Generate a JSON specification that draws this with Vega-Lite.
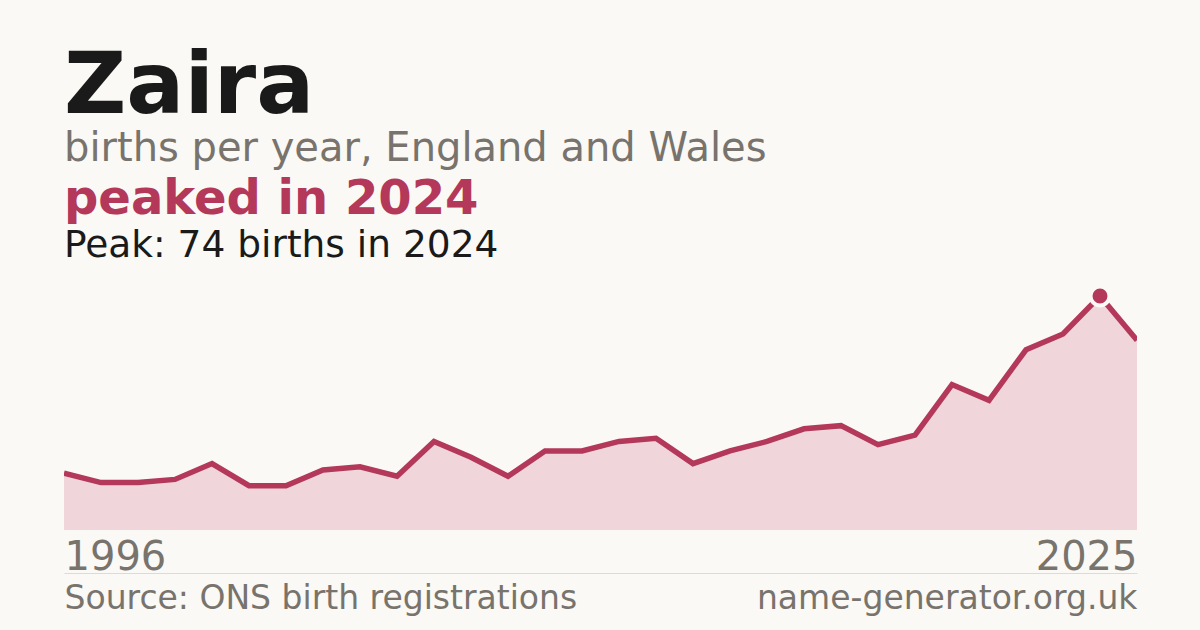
{
  "$schema": "https://vega.github.io/schema/vega-lite/v6.json",
  "description": "Births per year for the name Zaira, England and Wales, 1996-2025.",
  "background": "#faf9f5",
  "padding": {"left": 64, "right": 63, "top": 44, "bottom": 20},
  "title": {
    "text": "Zaira",
    "subtitle": "births per year, England and Wales",
    "anchor": "start",
    "font": "DejaVu Sans",
    "fontSize": 86,
    "fontWeight": "bold",
    "color": "#1a1a1a",
    "subtitleFont": "DejaVu Sans",
    "subtitleFontSize": 40,
    "subtitleColor": "#78736c",
    "subtitlePadding": -2,
    "offset": 6
  },
  "data": {
    "values": [
      {"year": 1996, "births": 18},
      {"year": 1997, "births": 15},
      {"year": 1998, "births": 15},
      {"year": 1999, "births": 16},
      {"year": 2000, "births": 21},
      {"year": 2001, "births": 14},
      {"year": 2002, "births": 14},
      {"year": 2003, "births": 19},
      {"year": 2004, "births": 20},
      {"year": 2005, "births": 17},
      {"year": 2006, "births": 28},
      {"year": 2007, "births": 23},
      {"year": 2008, "births": 17},
      {"year": 2009, "births": 25},
      {"year": 2010, "births": 25},
      {"year": 2011, "births": 28},
      {"year": 2012, "births": 29},
      {"year": 2013, "births": 21},
      {"year": 2014, "births": 25},
      {"year": 2015, "births": 28},
      {"year": 2016, "births": 32},
      {"year": 2017, "births": 33},
      {"year": 2018, "births": 27},
      {"year": 2019, "births": 30},
      {"year": 2020, "births": 46},
      {"year": 2021, "births": 41},
      {"year": 2022, "births": 57},
      {"year": 2023, "births": 62},
      {"year": 2024, "births": 74},
      {"year": 2025, "births": 60}
    ]
  },
  "vconcat": [
    {
      "width": 1073,
      "height": 234,
      "title": {
        "text": "peaked in 2024",
        "subtitle": "Peak: 74 births in 2024",
        "anchor": "start",
        "font": "DejaVu Sans",
        "fontSize": 48,
        "fontWeight": "bold",
        "color": "#b3385a",
        "subtitleFont": "DejaVu Sans",
        "subtitleFontSize": 37.5,
        "subtitleColor": "#1a1a1a",
        "subtitlePadding": 3,
        "offset": 14
      },
      "layer": [
        {
          "mark": {"type": "area", "color": "#f0d6db", "opacity": 1, "clip": true},
          "encoding": {
            "x": {
              "field": "year",
              "type": "quantitative",
              "scale": {"domain": [1996, 2025], "nice": false, "zero": false},
              "axis": {
                "orient": "bottom",
                "values": [1996, 2025],
                "format": "d",
                "labelFlush": true,
                "labelOverlap": false,
                "ticks": false,
                "tickSize": 0,
                "domain": false,
                "grid": false,
                "title": null,
                "labelFont": "DejaVu Sans",
                "labelFontSize": 40,
                "labelColor": "#78736c",
                "labelPadding": 7
              }
            },
            "y": {
              "field": "births",
              "type": "quantitative",
              "scale": {"domain": [0, 74], "nice": false},
              "axis": null
            }
          }
        },
        {
          "mark": {"type": "line", "color": "#b3385a", "strokeWidth": 5.5, "clip": true},
          "encoding": {
            "x": {"field": "year", "type": "quantitative", "axis": null},
            "y": {"field": "births", "type": "quantitative", "axis": null}
          }
        },
        {
          "transform": [
            {"joinaggregate": [{"op": "max", "field": "births", "as": "peak"}]},
            {"filter": "datum.births == datum.peak"}
          ],
          "mark": {
            "type": "point",
            "filled": true,
            "color": "#b3385a",
            "opacity": 1,
            "size": 360,
            "stroke": "#faf9f5",
            "strokeWidth": 4
          },
          "encoding": {
            "x": {
              "field": "year",
              "type": "quantitative",
              "axis": {
                "orient": "bottom",
                "offset": 43,
                "values": [1996, 2025],
                "labelExpr": "datum.value == 1996 ? 'Source: ONS birth registrations' : 'name-generator.org.uk'",
                "labelFlush": true,
                "labelOverlap": false,
                "labelBound": false,
                "labelLimit": 1000,
                "ticks": false,
                "tickSize": 0,
                "domain": true,
                "domainColor": "#dedbd5",
                "domainWidth": 1,
                "grid": false,
                "title": null,
                "labelFont": "DejaVu Sans",
                "labelFontSize": 33,
                "labelColor": "#78736c",
                "labelPadding": 9
              }
            },
            "y": {"field": "births", "type": "quantitative", "axis": null}
          }
        }
      ],
      "resolve": {"axis": {"x": "independent"}}
    }
  ],
  "config": {
    "view": {"stroke": null},
    "font": "DejaVu Sans"
  }
}
